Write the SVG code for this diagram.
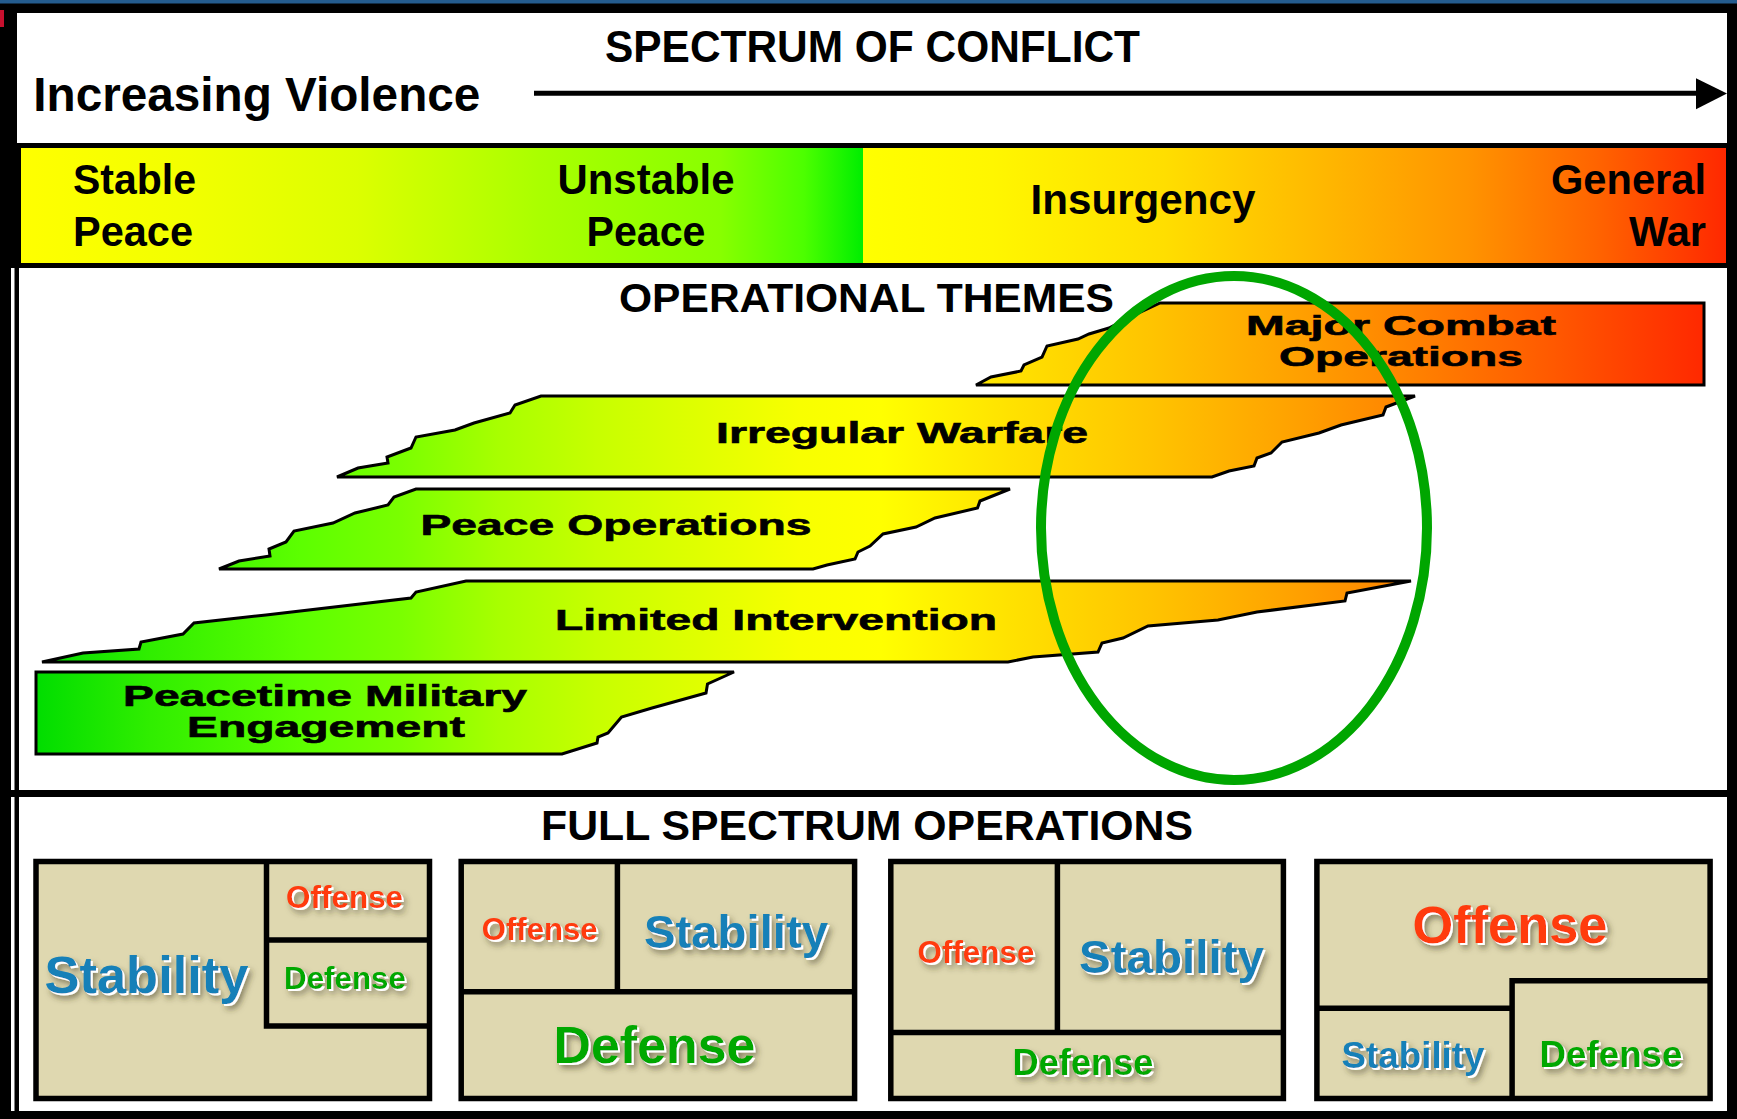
<svg xmlns="http://www.w3.org/2000/svg" width="1737" height="1119" viewBox="0 0 1737 1119">
<style>
.hd{font-family:"Liberation Sans",Arial,sans-serif;font-weight:bold;fill:#000}
.th{font-family:"Liberation Sans",Arial,sans-serif;font-weight:bold;fill:#000;stroke:#000;stroke-width:0.6;text-anchor:middle}
.shape{fill:url(#gTheme);stroke:#000;stroke-width:3;stroke-linejoin:miter}
.box{fill:#dfd8b0;stroke:#000;stroke-width:5.5}
.ln{stroke:#000;stroke-width:5.5;fill:none}
.fs{font-family:"Liberation Sans",Arial,sans-serif;font-weight:bold;text-anchor:middle;filter:url(#sh)}
.st{fill:#1380b8}
.of{fill:#ff3a0c}
.df{fill:#00a800}
</style>
<defs>
<linearGradient id="gBand1" x1="21" y1="0" x2="863" y2="0" gradientUnits="userSpaceOnUse">
<stop offset="0" stop-color="#ffff00"/>
<stop offset="0.2" stop-color="#f2ff00"/>
<stop offset="0.4" stop-color="#dcff00"/>
<stop offset="0.615" stop-color="#aaff00"/>
<stop offset="0.83" stop-color="#88ff00"/>
<stop offset="0.93" stop-color="#4cff00"/>
<stop offset="1" stop-color="#00ee00"/>
</linearGradient>
<linearGradient id="gBand2" x1="863" y1="0" x2="1726" y2="0" gradientUnits="userSpaceOnUse">
<stop offset="0" stop-color="#ffff00"/>
<stop offset="0.15" stop-color="#fff600"/>
<stop offset="0.35" stop-color="#ffde00"/>
<stop offset="0.55" stop-color="#ffb400"/>
<stop offset="0.7" stop-color="#ff9400"/>
<stop offset="0.85" stop-color="#ff6400"/>
<stop offset="1" stop-color="#ff2800"/>
</linearGradient>
<linearGradient id="gTheme" x1="35" y1="0" x2="1705" y2="0" gradientUnits="userSpaceOnUse">
<stop offset="0" stop-color="#00dd00"/>
<stop offset="0.069" stop-color="#30ee00"/>
<stop offset="0.159" stop-color="#5cff00"/>
<stop offset="0.219" stop-color="#7aff00"/>
<stop offset="0.278" stop-color="#a8ff00"/>
<stop offset="0.338" stop-color="#c8ff00"/>
<stop offset="0.398" stop-color="#e0ff00"/>
<stop offset="0.458" stop-color="#f8ff00"/>
<stop offset="0.506" stop-color="#ffff00"/>
<stop offset="0.578" stop-color="#ffe400"/>
<stop offset="0.668" stop-color="#ffc400"/>
<stop offset="0.757" stop-color="#ffa000"/>
<stop offset="0.829" stop-color="#ff8000"/>
<stop offset="0.907" stop-color="#ff5a00"/>
<stop offset="1" stop-color="#ff2800"/>
</linearGradient>
<filter id="sh" x="-15%" y="-25%" width="140%" height="170%">
<feGaussianBlur in="SourceAlpha" stdDeviation="3" result="b"/>
<feOffset in="b" dx="4" dy="5" result="ob"/>
<feFlood flood-color="#3a3520" flood-opacity="0.6"/>
<feComposite in2="ob" operator="in" result="ds"/>
<feOffset in="SourceAlpha" dx="1.5" dy="1.5" result="wo"/>
<feFlood flood-color="#ffffff"/>
<feComposite in2="wo" operator="in" result="ws"/>
<feMerge><feMergeNode in="ds"/><feMergeNode in="ws"/><feMergeNode in="SourceGraphic"/></feMerge>
</filter>
</defs>

<g id="frame">
<rect x="0" y="0" width="1737" height="1119" fill="#000"/>
<rect x="0" y="0" width="1737" height="3.5" fill="#245c8f"/>
<rect x="0" y="10" width="4" height="17" fill="#c8102e"/>
<rect x="17" y="13" width="1710" height="130" fill="#fff"/>
<rect x="11" y="268" width="1716" height="522" fill="#fff"/>
<rect x="11" y="797" width="1716" height="314" fill="#fff"/>
<rect x="14.5" y="268" width="4.5" height="843" fill="#000"/>
<rect x="14.5" y="790" width="1712.5" height="7" fill="#000"/>
</g>

<g id="header">
<text class="hd" x="872.5" y="62" font-size="44" text-anchor="middle" textLength="535" lengthAdjust="spacingAndGlyphs">SPECTRUM OF CONFLICT</text>
<text class="hd" x="33.3" y="110.7" font-size="47.5" textLength="447" lengthAdjust="spacingAndGlyphs">Increasing Violence</text>
<line x1="534" y1="93.3" x2="1700" y2="93.3" stroke="#000" stroke-width="5"/>
<polygon points="1696,78.3 1727,93.5 1696,109.3" fill="#000"/>
</g>

<g id="band">
<rect x="21" y="148" width="842" height="115" fill="url(#gBand1)"/>
<rect x="863" y="148" width="863" height="115" fill="url(#gBand2)"/>
<text class="hd" x="73" y="194" font-size="42" textLength="123" lengthAdjust="spacingAndGlyphs">Stable</text>
<text class="hd" x="73" y="246" font-size="42" textLength="120" lengthAdjust="spacingAndGlyphs">Peace</text>
<text class="hd" x="646" y="194" font-size="42" text-anchor="middle" textLength="177" lengthAdjust="spacingAndGlyphs">Unstable</text>
<text class="hd" x="646" y="246" font-size="42" text-anchor="middle" textLength="119" lengthAdjust="spacingAndGlyphs">Peace</text>
<text class="hd" x="1143" y="214" font-size="42" text-anchor="middle" textLength="225" lengthAdjust="spacingAndGlyphs">Insurgency</text>
<text class="hd" x="1706" y="194" font-size="42" text-anchor="end" textLength="155" lengthAdjust="spacingAndGlyphs">General</text>
<text class="hd" x="1706" y="246" font-size="42" text-anchor="end" textLength="77" lengthAdjust="spacingAndGlyphs">War</text>
</g>

<g id="themes">
<text class="hd" x="866.5" y="312" font-size="41" text-anchor="middle" textLength="495" lengthAdjust="spacingAndGlyphs">OPERATIONAL THEMES</text>
<g id="major-combat">
<path class="shape" d="M976,385 L991,377 L1021,371 L1024,365 L1042,357 L1047,346 L1078,339 L1089,334 L1109,328 L1128,318 L1160,303 L1704,303 L1704,385 Z"/>
<text class="th" x="1401" y="335" font-size="28" textLength="310" lengthAdjust="spacingAndGlyphs">Major Combat</text>
<text class="th" x="1401" y="366" font-size="28" textLength="244" lengthAdjust="spacingAndGlyphs">Operations</text>
</g>
<g id="irregular-warfare">
<path class="shape" d="M337,477 L358,468 L388,463 L387,457 L411,448 L416,437 L455,430 L474,423 L510,413 L515,405 L541,396 L1415,396 L1386,407 L1383,415 L1341,425 L1319,433 L1282,442 L1271,453 L1257,458 L1254,466 L1229,471 L1212,477 Z"/>
<text class="th" x="902" y="443" font-size="29" textLength="372" lengthAdjust="spacingAndGlyphs">Irregular Warfare</text>
</g>
<g id="peace-operations">
<path class="shape" d="M219,569 L239,561 L270,556 L269,549 L286,542 L294,531 L333,523 L355,513 L388,505 L394,497 L416,489 L1010,489 L980,501 L977.5,508 L935,518 L916,527 L883,534 L870,546 L858,552 L855,559 L827,565 L813,569 Z"/>
<text class="th" x="616" y="535" font-size="30" textLength="391" lengthAdjust="spacingAndGlyphs">Peace Operations</text>
</g>
<g id="limited-intervention">
<path class="shape" d="M42,662 L83,653 L139,649 L141,642 L183,634 L194,623 L266,615 L411,598 L416,592 L466,581 L1411,581 L1347,593 L1345,601 L1257,612 L1218,620 L1148,626 L1123,638 L1102,643 L1098,652 L1033,657 L1008,662 Z"/>
<text class="th" x="776" y="630" font-size="29" textLength="442" lengthAdjust="spacingAndGlyphs">Limited Intervention</text>
</g>
<g id="peacetime-military-engagement">
<path class="shape" d="M36,672 L734,672 L707.5,684 L706,693 L652,708 L621.5,717 L608,733 L598,737 L597,743 L562,754 L36,754 Z"/>
<text class="th" x="325" y="706" font-size="29" textLength="404" lengthAdjust="spacingAndGlyphs">Peacetime Military</text>
<text class="th" x="326" y="737" font-size="29" textLength="278" lengthAdjust="spacingAndGlyphs">Engagement</text>
</g>
<ellipse id="focus-ellipse" cx="1234" cy="528" rx="193" ry="252" fill="none" stroke="#00a600" stroke-width="10"/>
</g>

<g id="full-spectrum">
<text class="hd" x="867" y="840" font-size="42" text-anchor="middle" textLength="652" lengthAdjust="spacingAndGlyphs">FULL SPECTRUM OPERATIONS</text>
<g id="fso-1">
<rect class="box" x="36" y="861.5" width="393.5" height="237"/>
<path class="ln" d="M266.5,861.5 V1026 H430 M266.5,940 H430"/>
<text class="fs st" x="146.5" y="993" font-size="52" textLength="204" lengthAdjust="spacingAndGlyphs">Stability</text>
<text class="fs of" x="344.6" y="908" font-size="31" textLength="117" lengthAdjust="spacingAndGlyphs">Offense</text>
<text class="fs df" x="345" y="989" font-size="31" textLength="122" lengthAdjust="spacingAndGlyphs">Defense</text>
</g>
<g id="fso-2">
<rect class="box" x="461.2" y="861.5" width="393.4" height="237"/>
<path class="ln" d="M617.4,861.5 V991.8 M461.2,991.8 H854.6"/>
<text class="fs of" x="539.7" y="940" font-size="31" textLength="116" lengthAdjust="spacingAndGlyphs">Offense</text>
<text class="fs st" x="736" y="948" font-size="47" textLength="184" lengthAdjust="spacingAndGlyphs">Stability</text>
<text class="fs df" x="654.5" y="1063" font-size="52" textLength="202" lengthAdjust="spacingAndGlyphs">Defense</text>
</g>
<g id="fso-3">
<rect class="box" x="890.8" y="861.5" width="392.6" height="237"/>
<path class="ln" d="M1057.4,861.5 V1032.5 M890.8,1032.5 H1283.4"/>
<text class="fs of" x="976" y="962.7" font-size="31" textLength="117" lengthAdjust="spacingAndGlyphs">Offense</text>
<text class="fs st" x="1171.5" y="972.7" font-size="47" textLength="185" lengthAdjust="spacingAndGlyphs">Stability</text>
<text class="fs df" x="1083" y="1075" font-size="36" textLength="141" lengthAdjust="spacingAndGlyphs">Defense</text>
</g>
<g id="fso-4">
<rect class="box" x="1316.9" y="861.5" width="393.2" height="237"/>
<path class="ln" d="M1316.9,1008.3 H1512.1 V980.8 H1710.1 M1512.1,980.8 V1098.5"/>
<text class="fs of" x="1510" y="942.7" font-size="51" textLength="195" lengthAdjust="spacingAndGlyphs">Offense</text>
<text class="fs st" x="1413" y="1068" font-size="37" textLength="143" lengthAdjust="spacingAndGlyphs">Stability</text>
<text class="fs df" x="1611" y="1067" font-size="37" textLength="143" lengthAdjust="spacingAndGlyphs">Defense</text>
</g>
</g>
</svg>
